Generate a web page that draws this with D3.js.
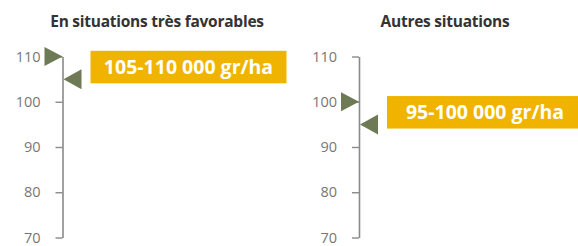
<!DOCTYPE html>
<html>
<head>
<meta charset="utf-8">
<script src="https://cdn.jsdelivr.net/npm/d3@7"></script>
<style>
  body { margin: 0; background: #fff; }
  svg { display: block; font-family: "Open Sans", sans-serif; }
</style>
</head>
<body>
<svg width="578" height="246"></svg>
<script>
// values
var titles = ["En situations très favorables", "Autres situations"];
var rangeHigh = [110, 100];
var rangeLow = [105, 95];
var rangeLabels = ["105-110 000 gr/ha", "95-100 000 gr/ha"];
var yTicks = [70, 80, 90, 100, 110];

var svg = d3.select("svg");

// layout
var axisX = [62.5, 359];
var titleX = [157, 445];
var yscale = d3.scaleLinear().domain([70, 110]).range([237.5, 56.5]);
var olive = "#6e7a55", gold = "#f0b400";

titles.forEach(function (t, i) {
  var g = svg.append("g").attr("transform", "translate(" + axisX[i] + ",0)");

  svg.append("text")
    .attr("x", titleX[i]).attr("y", 27)
    .attr("text-anchor", "middle")
    .attr("font-size", 15.5)
    .attr("font-weight", 700)
    .attr("letter-spacing", -0.25)
    .attr("fill", "#333")
    .text(t);

  var ax = g.append("g")
    .call(d3.axisLeft(yscale).tickValues(yTicks).tickSize(7).tickSizeOuter(0).tickPadding(15));
  ax.select(".domain").attr("stroke", "#8a8a8a").attr("stroke-width", 1.6);
  ax.selectAll(".tick line").attr("stroke", "#8a8a8a").attr("stroke-width", 1.4);
  ax.selectAll(".tick text")
    .attr("fill", "#777")
    .attr("font-size", 14.5)
    .attr("font-family", "Open Sans, sans-serif");

  // high value: flag pointing right onto the axis
  var yh = yscale(rangeHigh[i]);
  g.append("path")
    .attr("d", "M0," + yh + "L-18," + (yh - 9.5) + "L-18," + (yh + 9.5) + "Z")
    .attr("fill", olive);

  // low value: flag pointing left onto the axis
  var yl = yscale(rangeLow[i]);
  g.append("path")
    .attr("d", "M1," + yl + "L19," + (yl - 10) + "L19," + (yl + 10) + "Z")
    .attr("fill", olive);

  var yc = (yh + yl) / 2 - 1;
  g.append("rect")
    .attr("x", 28).attr("y", yc - 16)
    .attr("width", 196).attr("height", 32.5)
    .attr("fill", gold);

  g.append("text")
    .attr("x", 28 + 98).attr("y", yc)
    .attr("dy", "0.36em")
    .attr("text-anchor", "middle")
    .attr("font-size", 19.5)
    .attr("font-weight", 700)
    .attr("fill", "#fff")
    .text(rangeLabels[i]);
});
</script>
</body>
</html>
